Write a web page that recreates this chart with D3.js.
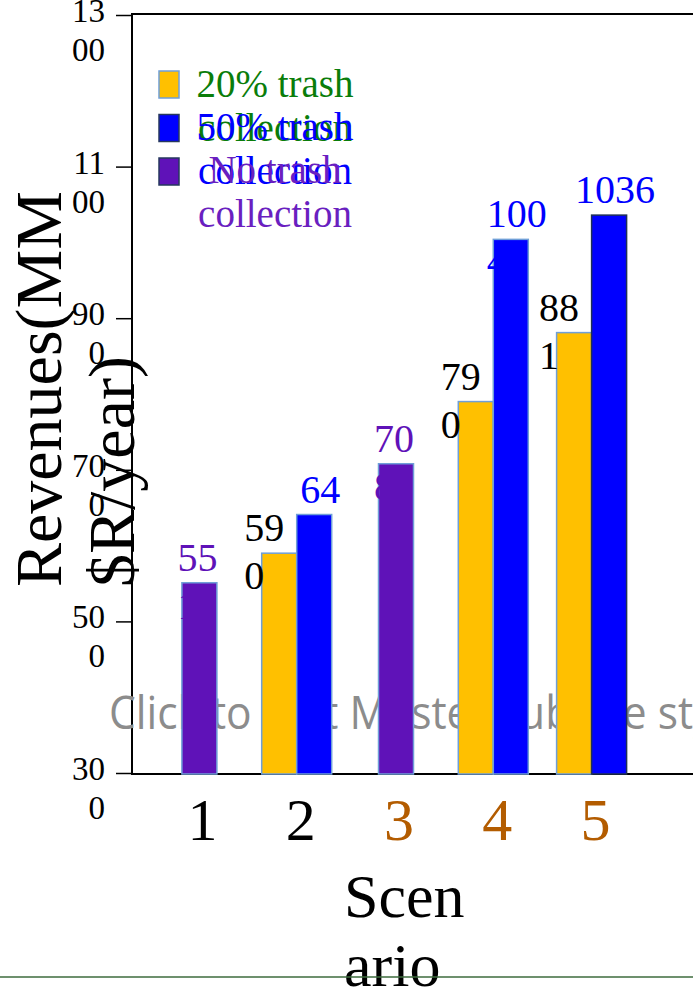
<!DOCTYPE html>
<html>
<head>
<meta charset="utf-8">
<script src="https://cdn.jsdelivr.net/npm/d3@7"></script>
<style>
body { margin: 0; background: #fff; }
svg { display: block; }
</style>
</head>
<body>
<div id="vis"></div>
<script>
// data
var scenarios = ["1", "2", "3", "4", "5"];
var scenarioColors = ["#000000", "#000000", "#b35c00", "#b35c00", "#b35c00"];
var seriesNames = ["20% trash collection", "50% trash collection", "No trash collection"];
var trash20 = [null, 590, null, 790, 881];
var trash50 = [null, 641, null, 1004, 1036];
var noTrash = [551, null, 708, null, null];
// how many characters fit on the first line of each data label
var trash20Break = [null, 2, null, 2, 2];
var trash50Break = [null, 2, null, 3, 4];
var noTrashBreak = [2, null, 2, null, null];
var yTicks = [300, 500, 700, 900, 1100, 1300];

var width = 693;
var height = 993;
var serif = "'Liberation Serif', 'Times New Roman', serif";

var svg = d3.select('#vis').append('svg')
    .attr('width', width)
    .attr('height', height);

var x = d3.scaleBand().domain(scenarios).range([149.25, 640.75]).padding(0);
var y = d3.scaleLinear().domain([300, 1300]).range([773, 15]);

var series = [
    { name: seriesNames[0], values: trash20, breaks: trash20Break, fill: "#ffc000", stroke: "#6f9fd8", text: "#000000", legendText: "#0a7d0a", shift: -15, slot: "left" },
    { name: seriesNames[1], values: trash50, breaks: trash50Break, fill: "#0000ff", stroke: "#6f9fd8", text: "#0000ff", legendText: "#0000ff", shift: 6, slot: "right" },
    { name: seriesNames[2], values: noTrash, breaks: noTrashBreak, fill: "#5f12b8", stroke: "#6f9fd8", text: "#5f12b8", legendText: "#6a1fc0", shift: -2, slot: "mid" }
];

var barW = 35;

function barX(s, i) {
    var c = x(scenarios[i]) + x.bandwidth() / 2;
    if (s.slot == "left") return c - barW;
    if (s.slot == "right") return c;
    return c - barW / 2 + 1;
}

// frame
svg.append('line').attr('x1', 131).attr('x2', width).attr('y1', 14).attr('y2', 14)
    .attr('stroke', '#000').attr('stroke-width', 2);
svg.append('line').attr('x1', 131).attr('x2', width).attr('y1', 774).attr('y2', 774)
    .attr('stroke', '#000').attr('stroke-width', 2);

var yAxis = svg.append('g')
    .attr('transform', 'translate(132,0)')
    .call(d3.axisLeft(y).tickValues(yTicks).tickSize(16).tickSizeOuter(0).tickFormat(''));
yAxis.select('.domain').attr('stroke-width', 2).attr('d', 'M0,14V774');
yAxis.selectAll('.tick line').attr('stroke-width', 1.5);

// y tick labels wrap after two characters
yTicks.forEach(function (t) {
    var s = String(t);
    var txt = svg.append('text')
        .attr('text-anchor', 'end')
        .attr('font-family', serif)
        .attr('font-size', 33)
        .attr('fill', '#000');
    txt.append('tspan').attr('x', 105).attr('y', y(t) + 7).text(s.slice(0, 2));
    txt.append('tspan').attr('x', 105).attr('y', y(t) + 46).text(s.slice(2));
});

// placeholder text of the slide, sits behind the bars
svg.append('text')
    .attr('x', 109)
    .attr('y', 729)
    .attr('font-family', "'Open Sans', 'Liberation Sans', sans-serif")
    .attr('font-size', 46)
    .attr('fill', '#8c8c8c')
    .attr('textLength', 640)
    .attr('lengthAdjust', 'spacingAndGlyphs')
    .text('Click to edit Master subtitle style');

// bars
series.forEach(function (s) {
    s.values.forEach(function (v, i) {
        if (v == null) return;
        svg.append('rect')
            .attr('x', barX(s, i))
            .attr('y', y(v))
            .attr('width', barW)
            .attr('height', y(300) - y(v) + 1)
            .attr('fill', s.fill)
            .attr('stroke', (s.slot == "right" && i == 4) ? '#1f3056' : s.stroke)
            .attr('stroke-width', 1.5);
    });
});

// data labels, wrapped like the slide text boxes
series.forEach(function (s) {
    s.values.forEach(function (v, i) {
        if (v == null) return;
        var str = String(v);
        var n = s.breaks[i];
        var cx = barX(s, i) + barW / 2 + s.shift;
        var x0 = cx - n * 10;
        var top = y(v) - 12;
        var txt = svg.append('text')
            .attr('font-family', serif)
            .attr('font-size', 40)
            .attr('fill', s.text);
        txt.append('tspan').attr('x', x0).attr('y', top).text(str.slice(0, n));
        if (n < str.length) {
            txt.append('tspan').attr('x', x0).attr('y', top + 48).text(str.slice(n));
        }
    });
});

// x tick labels
var xAxis = svg.append('g')
    .attr('transform', 'translate(4,774)')
    .call(d3.axisBottom(x).tickSize(0).tickPadding(0));
xAxis.select('.domain').remove();
xAxis.selectAll('.tick text')
    .attr('font-family', serif)
    .attr('font-size', 60)
    .attr('dy', 0)
    .attr('y', 66)
    .attr('fill', function (d, i) { return scenarioColors[i]; });

// legend
series.forEach(function (s, i) {
    svg.append('rect')
        .attr('x', 159)
        .attr('y', 71 + i * 43.5)
        .attr('width', 20)
        .attr('height', 27)
        .attr('fill', s.fill)
        .attr('stroke', i == 0 ? '#6f9fd8' : '#26385e')
        .attr('stroke-width', 1.5);
    var words = s.name.split(' ');
    var txt = svg.append('text')
        .attr('text-anchor', 'middle')
        .attr('font-family', serif)
        .attr('font-size', 39)
        .attr('fill', s.legendText);
    txt.append('tspan').attr('x', 275).attr('y', 97 + i * 43).text(words.slice(0, -1).join(' '));
    txt.append('tspan').attr('x', 275).attr('y', 141 + i * 43).text(words[words.length - 1]);
});

// axis titles
var yTitle = svg.append('text')
    .attr('transform', 'translate(0,587) rotate(-90)')
    .attr('font-family', serif)
    .attr('font-size', 66)
    .attr('fill', '#000');
yTitle.append('tspan').attr('x', 0).attr('y', 61).text('Revenues(MM');
yTitle.append('tspan').attr('x', 0).attr('y', 134).text('$R/year)');

var xTitle = svg.append('text')
    .attr('font-family', serif)
    .attr('font-size', 62)
    .attr('fill', '#000');
xTitle.append('tspan').attr('x', 344).attr('y', 917).text('Scen');
xTitle.append('tspan').attr('x', 344).attr('y', 986).text('ario');

// slide footer rule
svg.append('line').attr('x1', 0).attr('x2', width).attr('y1', 977).attr('y2', 977)
    .attr('stroke', '#3d6b3d').attr('stroke-width', 1.5);
</script>
</body>
</html>
